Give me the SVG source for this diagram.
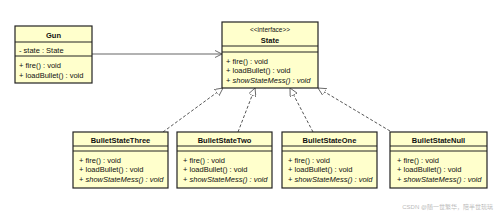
<svg xmlns="http://www.w3.org/2000/svg" width="498" height="214" viewBox="0 0 498 214">
<defs>
<style>
.box{fill:#ffffcc;stroke:#222;stroke-width:1.2}
.div{stroke:#222;stroke-width:1}
.t{font-family:"Liberation Sans",Arial,sans-serif;font-size:7.5px;fill:#111}
.b{font-weight:bold}
.i{font-style:italic}
.c{text-anchor:middle}
.dash{stroke:#555;stroke-width:1;stroke-dasharray:3,2;fill:none}
.assoc{stroke:#666;stroke-width:1.2;fill:none}
.wm{font-family:"Liberation Sans","Noto Sans CJK SC",sans-serif;font-size:6px;fill:#bbb}
</style>
<marker id="tri" viewBox="0 0 10 10" refX="10" refY="5" markerWidth="8" markerHeight="8" markerUnits="userSpaceOnUse" orient="auto">
<path d="M0,0 L10,5 L0,10 Z" fill="#fff" stroke="#555" stroke-width="1"/>
</marker>
<marker id="open" viewBox="0 0 10 10" refX="10" refY="5" markerWidth="7" markerHeight="8" markerUnits="userSpaceOnUse" orient="auto">
<path d="M0,0 L10,5 L0,10" fill="none" stroke="#555" stroke-width="1.2"/>
</marker>
</defs>
<rect width="498" height="214" fill="#fff"/>
<g id="connectors">
<line class="assoc" x1="92" y1="54" x2="222" y2="54" marker-end="url(#open)"/>
<line class="dash" x1="163" y1="132" x2="223" y2="88" marker-end="url(#tri)"/>
<line class="dash" x1="238" y1="132" x2="255" y2="88" marker-end="url(#tri)"/>
<line class="dash" x1="313" y1="132" x2="290" y2="88" marker-end="url(#tri)"/>
<line class="dash" x1="390" y1="131" x2="318" y2="88" marker-end="url(#tri)"/>
</g>
<g id="gun">
<rect class="box" x="15" y="26" width="77" height="57"/>
<line class="div" x1="15" y1="42" x2="92" y2="42"/>
<line class="div" x1="15" y1="56" x2="92" y2="56"/>
<text class="t b c" x="53.5" y="37.5">Gun</text>
<text class="t" x="19" y="52.5">- state : State</text>
<text class="t" x="19" y="67.5">+ fire() : void</text>
<text class="t" x="19" y="77.5">+ loadBullet() : void</text>
</g>
<g id="state">
<rect class="box" x="222" y="22" width="96" height="66"/>
<line class="div" x1="222" y1="46" x2="318" y2="46"/>
<line class="div" x1="222" y1="52" x2="318" y2="52"/>
<text class="t c" x="270" y="31.5" style="font-size:6.5px">&lt;&lt;interface&gt;&gt;</text>
<text class="t b c" x="270" y="43">State</text>
<text class="t" x="226" y="63.5">+ fire() : void</text>
<text class="t" x="226" y="73">+ loadBullet() : void</text>
<text class="t" x="226" y="82.5">+ <tspan class="i">showStateMess() : void</tspan></text>
</g>
<g id="bulletStateThree">
<rect class="box" x="73" y="132" width="95" height="56"/>
<line class="div" x1="73" y1="146" x2="168" y2="146"/>
<line class="div" x1="73" y1="151" x2="168" y2="151"/>
<text class="t b c" x="120.5" y="142.5">BulletStateThree</text>
<text class="t" x="79" y="162.5">+ fire() : void</text>
<text class="t" x="79" y="172">+ loadBullet() : void</text>
<text class="t" x="79" y="182">+ <tspan class="i">showStateMess() : void</tspan></text>
</g>
<g id="bulletStateTwo">
<rect class="box" x="177" y="132" width="95" height="56"/>
<line class="div" x1="177" y1="146" x2="272" y2="146"/>
<line class="div" x1="177" y1="151" x2="272" y2="151"/>
<text class="t b c" x="224.5" y="142.5">BulletStateTwo</text>
<text class="t" x="183" y="162.5">+ fire() : void</text>
<text class="t" x="183" y="172">+ loadBullet() : void</text>
<text class="t" x="183" y="182">+ <tspan class="i">showStateMess() : void</tspan></text>
</g>
<g id="bulletStateOne">
<rect class="box" x="282" y="132" width="95" height="56"/>
<line class="div" x1="282" y1="146" x2="377" y2="146"/>
<line class="div" x1="282" y1="151" x2="377" y2="151"/>
<text class="t b c" x="329.5" y="142.5">BulletStateOne</text>
<text class="t" x="288" y="162.5">+ fire() : void</text>
<text class="t" x="288" y="172">+ loadBullet() : void</text>
<text class="t" x="288" y="182">+ <tspan class="i">showStateMess() : void</tspan></text>
</g>
<g id="bulletStateNull">
<rect class="box" x="390" y="132" width="97" height="56"/>
<line class="div" x1="390" y1="146" x2="487" y2="146"/>
<line class="div" x1="390" y1="151" x2="487" y2="151"/>
<text class="t b c" x="438.5" y="142.5">BulletStateNull</text>
<text class="t" x="397" y="162.5">+ fire() : void</text>
<text class="t" x="397" y="172">+ loadBullet() : void</text>
<text class="t" x="397" y="182">+ <tspan class="i">showStateMess() : void</tspan></text>
</g>
<text class="wm" x="493" y="209" text-anchor="end">CSDN @随一世繁华，陪半世琉璃</text>
</svg>
